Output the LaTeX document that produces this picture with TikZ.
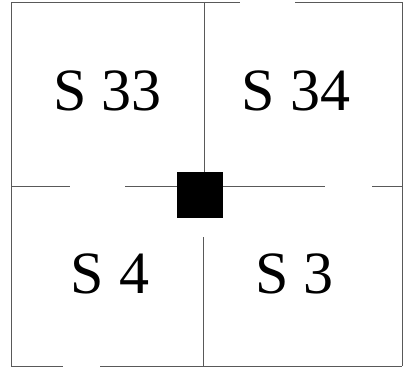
\documentclass[tikz,border=0pt]{standalone}
\usepackage{fontspec}
\setmainfont{Liberation Serif}
\begin{document}
\begin{tikzpicture}[x=1pt,y=-1pt,
  gridline/.style={draw=black!65,line width=1pt},
  label/.style={font=\fontsize{60}{60}\selectfont,inner sep=0pt,anchor=base}]
\useasboundingbox (0,0) rectangle (406,369);
% outer frame
\draw[gridline] (11,3) -- (240,3);
\draw[gridline] (295,3) -- (402,3) -- (402,366);
\draw[gridline] (11,3) -- (11,366) -- (63,366);
\draw[gridline] (100,366) -- (402,366);
% middle lines
\draw[gridline] (204,3) -- (204,172);
\draw[gridline] (203,237) -- (203,366);
\draw[gridline] (11,186) -- (70,186);
\draw[gridline] (125,186) -- (325,186);
\draw[gridline] (372,186) -- (402,186);
% black square
\node[fill=black,minimum size=46pt,inner sep=0pt] (sq) at (200,195) {};
% labels
\node[label] (s33) at (107.5,110) {S 33};
\node[label] (s34) at (296,110) {S 34};
\node[label] (s4) at (110,293) {S 4};
\node[label] (s3) at (294.5,293) {S 3};
\end{tikzpicture}
\end{document}
